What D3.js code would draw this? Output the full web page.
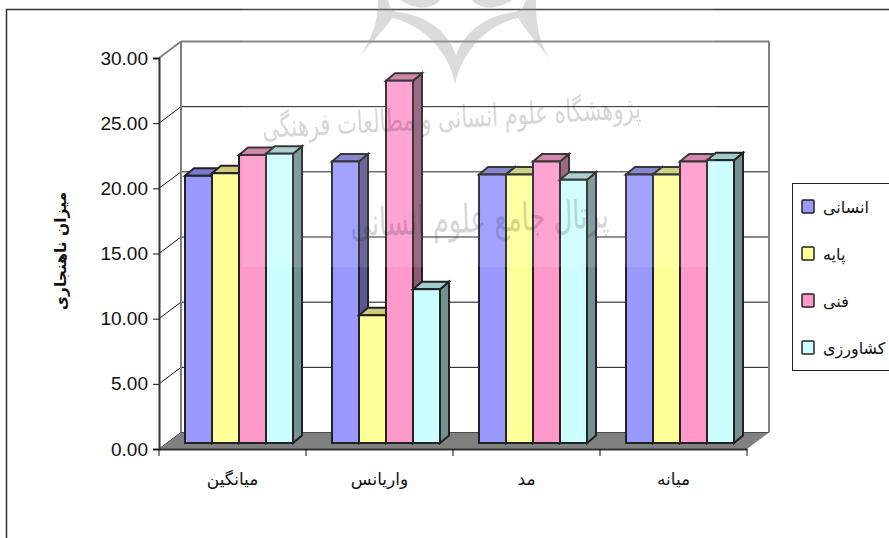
<!DOCTYPE html>
<html>
<head>
<meta charset="utf-8">
<script src="https://cdn.jsdelivr.net/npm/d3@7"></script>
<style>
html, body { margin: 0; padding: 0; background: #fff; overflow: hidden; }
svg { display: block; }
text { font-family: "DejaVu Sans", sans-serif; fill: #111; }
</style>
</head>
<body>
<div id="chart-area"></div>
<script>
var categories = ["میانگین", "واریانس", "مد", "میانه"];
var seriesNames = ["انسانی", "پایه", "فنی", "کشاورزی"];
var seriesColors = ["#9999FF", "#FFFF99", "#FF99CC", "#CCFFFF"];
var insani = [20.5, 21.6, 20.6, 20.6];
var paye = [20.7, 9.8, 20.6, 20.6];
var fani = [22.1, 27.8, 21.6, 21.6];
var keshavarzi = [22.2, 11.8, 20.2, 21.7];
var yTicks = [0, 5, 10, 15, 20, 25, 30];
var seriesValues = [insani, paye, fani, keshavarzi];

var svg = d3.select("#chart-area").append("svg")
    .attr("width", 889)
    .attr("height", 538);

// outer frame runs off the right and bottom of the picture
svg.append("path")
    .attr("d", "M889,9.5H6.5V538")
    .attr("fill", "none")
    .attr("stroke", "#333")
    .attr("stroke-width", 1.5);

var y = d3.scaleLinear().domain([0, 30]).range([449, 58]);
var x = d3.scaleBand().domain(categories).range([159, 747]);
var xInner = d3.scaleBand().domain(seriesNames).range([26, 134]);

// 3d offsets
var wallX = 22, wallY = 16.5;
var barX = 9, barY = 7.5, barLift = 6;

var g = svg.append("g");

// walls
yTicks.forEach(function (t) {
    var top = t === 30;
    g.append("line")
        .attr("x1", 159).attr("y1", y(t))
        .attr("x2", 159 + wallX).attr("y2", y(t) - wallY)
        .attr("stroke", top ? "#808080" : "#111")
        .attr("stroke-width", top ? 2 : 1);
    g.append("line")
        .attr("x1", 159 + wallX).attr("y1", y(t) - wallY)
        .attr("x2", 747 + wallX).attr("y2", y(t) - wallY)
        .attr("stroke", top ? "#808080" : "#111")
        .attr("stroke-width", top ? 2 : 1);
});
[159 + wallX, 747 + wallX].forEach(function (px) {
    g.append("line")
        .attr("x1", px).attr("x2", px)
        .attr("y1", y(30) - wallY).attr("y2", y(0) - wallY)
        .attr("stroke", "#808080")
        .attr("stroke-width", 2);
});

// floor
g.append("polygon")
    .attr("points", [[159, y(0)], [159 + wallX, y(0) - wallY], [747 + wallX, y(0) - wallY], [747, y(0)]].join(" "))
    .attr("fill", "#808080");

// axes
var yAxis = d3.axisLeft(y)
    .tickValues(yTicks)
    .tickSize(6)
    .tickPadding(5)
    .tickFormat(d3.format(".2f"));
var yg = g.append("g")
    .attr("transform", "translate(159,0)")
    .call(yAxis);
yg.select(".domain").attr("stroke", "#333").attr("stroke-width", 2);
yg.selectAll(".tick line").attr("stroke", "#111");
yg.selectAll("text")
    .style("font-family", "'Liberation Sans', Arial, sans-serif")
    .attr("font-size", 19)
    .attr("fill", "#111");

var xAxis = d3.axisBottom(x).tickSize(0).tickPadding(24);
var xg = g.append("g")
    .attr("transform", "translate(0,449)")
    .call(xAxis);
xg.select(".domain").attr("stroke", "#333").attr("stroke-width", 2);
xg.selectAll("text")
    .style("font-family", "'DejaVu Sans', sans-serif")
    .attr("font-size", 17)
    .attr("fill", "#111");
// ticks sit on the band edges, not the centres
g.selectAll(".band-tick").data(categories.concat(["end"]))
    .enter().append("line")
    .attr("class", "band-tick")
    .attr("x1", function (d) { return d === "end" ? x.range()[1] : x(d); })
    .attr("x2", function (d) { return d === "end" ? x.range()[1] : x(d); })
    .attr("y1", 449)
    .attr("y2", 456)
    .attr("stroke", "#111");

function shade(color, k) {
    var c = d3.rgb(color);
    return d3.rgb(c.r * k, c.g * k, c.b * k).formatHex();
}

// bars, left to right so each one covers the side of the one before
categories.forEach(function (cat, ci) {
    seriesNames.forEach(function (name, si) {
        var v = seriesValues[si][ci];
        var x0 = x(cat) + xInner(name);
        var x1 = x0 + xInner.bandwidth();
        var yTop = y(v) - barLift;
        var yBase = y(0) - barLift;
        var color = seriesColors[si];
        var bar = g.append("g")
            .attr("stroke", "#222")
            .attr("stroke-width", 2)
            .attr("stroke-linejoin", "miter");
        bar.append("polygon")
            .attr("points", [[x1, yTop], [x1 + barX, yTop - barY], [x1 + barX, yBase - barY], [x1, yBase]].join(" "))
            .attr("fill", shade(color, 0.57));
        bar.append("polygon")
            .attr("points", [[x0, yTop], [x0 + barX, yTop - barY], [x1 + barX, yTop - barY], [x1, yTop]].join(" "))
            .attr("fill", shade(color, 0.8));
        bar.append("rect")
            .attr("x", x0)
            .attr("y", yTop)
            .attr("width", x1 - x0)
            .attr("height", yBase - yTop)
            .attr("fill", color);
    });
});

// axis title
svg.append("text")
    .attr("transform", "translate(66,251) rotate(-90)")
    .attr("text-anchor", "middle")
    .attr("font-size", 15.5)
    .attr("font-weight", "bold")
    .text("میزان ناهنجاری");

// legend
var legend = svg.append("g");
legend.append("rect")
    .attr("x", 792.5).attr("y", 183.5)
    .attr("width", 110).attr("height", 187)
    .attr("fill", "#fff")
    .attr("stroke", "#222");
var legendY = d3.scalePoint().domain(seriesNames).range([207, 348]);
seriesNames.forEach(function (name, i) {
    legend.append("rect")
        .attr("x", 802).attr("y", legendY(name) - 7)
        .attr("width", 12).attr("height", 13)
        .attr("rx", 1)
        .attr("fill", seriesColors[i])
        .attr("stroke", "#222")
        .attr("stroke-width", 1.5);
    legend.append("text")
        .attr("x", 823)
        .attr("y", legendY(name) + 6)
        .attr("font-size", 16)
        .text(name);
});

// watermark: the washed out image lying over the chart
var mark = svg.append("g");
mark.append("rect")
    .attr("x", 242).attr("y", 0)
    .attr("width", 473).attr("height", 267)
    .attr("fill", "#fff")
    .attr("opacity", 0.1);
mark.append("path")
    .attr("d", "M455,85 C451,55 425,25 392,18 C384,30 372,42 360,56 C372,38 378,22 378,0 L388,0 C390,8 392,11 397,12 C425,15 447,30 456,55 C465,30 488,15 515,12 C521,11 523,8 526,0 L536,0 C536,22 538,40 549,58 C536,42 526,30 518,18 C485,25 460,55 455,85 Z")
    .attr("fill", "#999")
    .attr("opacity", 0.35);
mark.append("path")
    .attr("d", "M400,0 C412,8 430,12 440,0 Z M472,0 C482,12 500,8 512,0 Z")
    .attr("fill", "#999")
    .attr("opacity", 0.35);
mark.append("text")
    .attr("transform", "translate(452,128) rotate(-3) scale(0.75,1.1)")
    .attr("text-anchor", "middle")
    .attr("font-size", 28)
    .attr("fill", "#555")
    .attr("opacity", 0.17)
    .text("پژوهشگاه علوم انسانی و مطالعات فرهنگی");
mark.append("text")
    .attr("transform", "translate(480,232) rotate(-2) scale(0.76,1.15)")
    .attr("text-anchor", "middle")
    .attr("font-size", 34)
    .attr("fill", "#445")
    .attr("opacity", 0.17)
    .text("پرتال جامع علوم انسانی");
</script>
</body>
</html>
